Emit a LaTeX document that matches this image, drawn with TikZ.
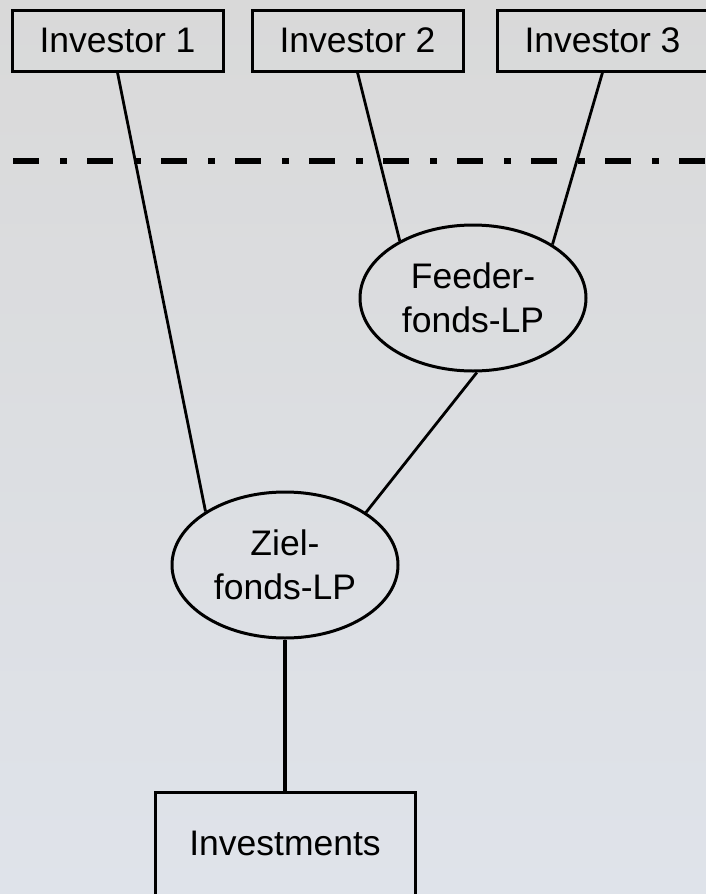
\documentclass[tikz,border=0pt]{standalone}
\usepackage{fontspec}
\setmainfont{Liberation Sans}
\usetikzlibrary{shapes.geometric}
\tikzset{
  invbox/.style={draw=black, line width=3pt, rectangle, minimum width=211pt, minimum height=61pt, inner sep=0pt, font=\fontsize{35.5}{44}\selectfont},
  fund/.style={draw=black, line width=3pt, ellipse, minimum width=226pt, minimum height=146pt, inner sep=0pt, align=center, font=\fontsize{35.5}{44}\selectfont},
  conn/.style={draw=black, line width=2.8pt},
  sep/.style={draw=black, line width=6.5pt, dash pattern=on 26pt off 21pt on 7pt off 20pt}
}
\begin{document}
\begin{tikzpicture}[x=1pt, y=-1pt]
\useasboundingbox (0,0) rectangle (706,894);
\clip (0,0) rectangle (706,894);
\shade[top color={rgb,255:red,217;green,217;blue,217}, bottom color={rgb,255:red,223;green,227;blue,234}] (0,0) rectangle (706,894);
\coordinate (sepL) at (13,161);
\coordinate (sepR) at (706,161);
\draw[sep] (sepL) -- (sepR);
\node[invbox] (inv1) at (117.5,40.5) {Investor 1};
\node[invbox] (inv2) at (357.5,40.5) {Investor 2};
\node[invbox] (inv3) at (602.5,40.5) {Investor 3};
\node[fund] (feeder) at (473,298) {Feeder-\\fonds-LP};
\node[fund] (ziel) at (285,565) {Ziel-\\fonds-LP};
\node[draw=black, line width=3pt, rectangle, minimum width=260pt, minimum height=103pt, inner sep=0pt, font=\fontsize{35.5}{44}\selectfont] (inv) at (285,843.5) {Investments};
\draw[conn] (inv1.south) -- (ziel.146.5);
\draw[conn] (inv2.south) -- (feeder.142.6);
\draw[conn] (inv3.south) -- (feeder.34.6);
\draw[conn] (feeder.-87) -- (ziel.33);
\draw[conn, line width=3.8pt] (ziel.south) -- (inv.north);
\end{tikzpicture}
\end{document}
